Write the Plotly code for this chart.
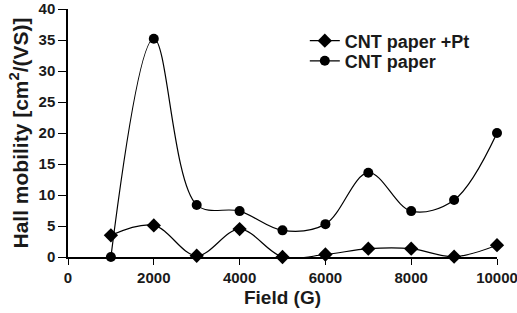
import plotly.graph_objects as go

field = [1000, 2000, 3000, 4000, 5000, 6000, 7000, 8000, 9000, 10000]
cnt_pt = [3.5, 5.1, 0.2, 4.5, 0.0, 0.4, 1.35, 1.35, 0.05, 1.9]
cnt_paper = [0.0, 35.2, 8.4, 7.4, 4.3, 5.3, 13.6, 7.4, 9.2, 20.0]
x_ticks = [0, 2000, 4000, 6000, 8000, 10000]
y_ticks = [0, 5, 10, 15, 20, 25, 30, 35, 40]

font = "Liberation Sans, Arial, sans-serif"
ink = "#1a1a1a"
fig = go.Figure()
fig.add_trace(go.Scatter(x=field, y=cnt_pt, name="CNT paper +Pt", mode="lines+markers", legend="legend",
                         line=dict(color="black", width=1.2, shape="spline", smoothing=1.0),
                         marker=dict(symbol="diamond", size=11, color="black")))
fig.add_trace(go.Scatter(x=field, y=cnt_paper, name="CNT paper", mode="lines+markers", legend="legend2",
                         line=dict(color="black", width=1.2, shape="spline", smoothing=1.0),
                         marker=dict(symbol="circle", size=10, color="black")))
leg_common = dict(x=0.552, xanchor="left", yanchor="middle", bgcolor="rgba(0,0,0,0)",
                  font=dict(size=18, family=font, color=ink, weight="bold"), itemwidth=30)
fig.update_layout(
    width=517, height=313, margin=dict(l=68, r=20, t=9, b=56),
    paper_bgcolor="white", plot_bgcolor="white",
    font=dict(family=font, size=15, color=ink, weight="bold"),
    showlegend=True,
    legend=dict(y=0.871, **leg_common),
    legend2=dict(y=0.790, **leg_common),
    xaxis=dict(range=[0, 10000], tickvals=x_ticks, ticktext=[str(v) for v in x_ticks],
               ticklabeloverflow="allow",
               showgrid=False, zeroline=False, automargin=False,
               showline=True, linecolor="black", linewidth=1.5, ticks="outside", ticklen=6,
               tickcolor="black", tickfont=dict(size=15, family=font, weight="bold", color=ink),
               title=dict(text="Field (G)", font=dict(size=19, family=font, weight="bold", color=ink), standoff=6)),
    yaxis=dict(range=[0, 40], tickvals=y_ticks, showgrid=False, zeroline=False, automargin=False,
               showline=True, linecolor="black", linewidth=1.5, ticks="outside", ticklen=8,
               tickcolor="black", tickfont=dict(size=15, family=font, weight="bold", color=ink),
               title=dict(text="Hall mobility [cm<sup>2</sup>/(VS)]", font=dict(size=21, family=font, weight="bold", color=ink), standoff=4)),
)
fig.update_traces(cliponaxis=False)
fig.write_html("out.html", config={"displayModeBar": False},
               post_script="document.body.style.margin='0';document.body.style.overflow='hidden';")
